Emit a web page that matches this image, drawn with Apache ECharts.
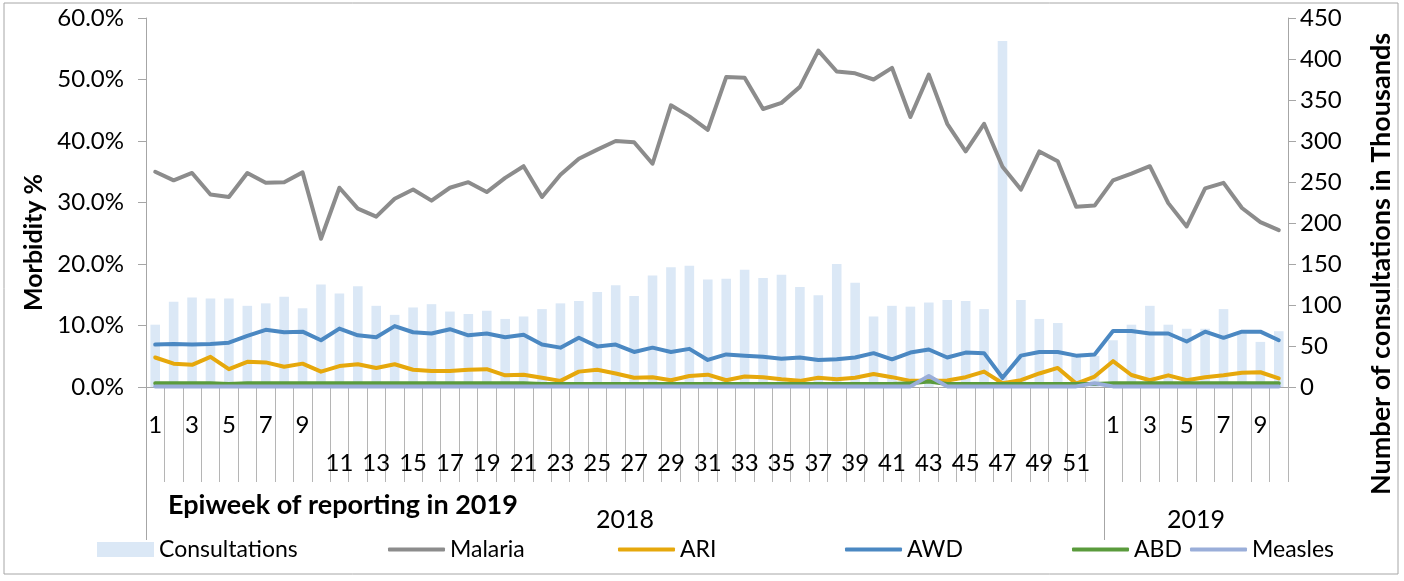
<!DOCTYPE html>
<html><head><meta charset="utf-8">
<script src="https://cdn.jsdelivr.net/npm/echarts@6/dist/echarts.min.js"></script>
<style>html,body{margin:0;padding:0;background:#fff}#c{width:1404px;height:581px}</style>
</head><body><div id="c"></div>
<script>
const weeks = ['1','2','3','4','5','6','7','8','9','10','11','12','13','14','15','16','17','18','19','20',
  '21','22','23','24','25','26','27','28','29','30','31','32','33','34','35','36','37','38','39','40',
  '41','42','43','44','45','46','47','48','49','50','51','52',
  '1','2','3','4','5','6','7','8','9','10'];
const years = ['2018', '2019'];
const yearStart = [0, 52];
const yearEnd = [52, 62];
const consultations = [76,104,109,108,108,99,102,110,96,125,114,123,99,88,97,101,92,89,93,83,
  86,95,102,105,116,124,111,136,146,148,131,132,143,133,137,122,112,150,127,86,
  99,98,103,106,105,95,422,106,83,78,40,38,57,76,99,76,71,71,95,65,55,68];
const malaria = [35.0,33.6,34.8,31.3,30.9,34.8,33.2,33.3,34.9,24.1,32.4,29.0,27.7,30.6,32.1,30.3,32.4,33.3,31.7,34.0,
  35.9,30.9,34.5,37.1,38.6,40.0,39.8,36.3,45.8,44.0,41.8,50.4,50.3,45.2,46.2,48.8,54.7,51.3,51.0,50.0,
  51.9,43.9,50.8,42.8,38.3,42.8,35.8,32.1,38.3,36.7,29.3,29.5,33.6,34.7,35.9,29.9,26.1,32.3,33.2,29.1,26.8,25.5];
const ari = [4.8,3.8,3.6,4.9,2.9,4.1,4.0,3.3,3.8,2.5,3.4,3.7,3.1,3.7,2.8,2.6,2.6,2.8,2.9,1.9,
  2.0,1.5,1.0,2.5,2.8,2.2,1.5,1.6,1.1,1.8,2.0,1.1,1.7,1.6,1.25,1.0,1.5,1.25,1.5,2.1,
  1.6,1.0,1.0,1.05,1.6,2.5,0.6,1.1,2.2,3.1,0.55,1.7,4.2,1.95,1.1,1.9,1.1,1.6,1.9,2.3,2.4,1.4];
const awd = [6.9,7.0,6.9,7.0,7.2,8.3,9.3,8.9,9.0,7.6,9.5,8.4,8.1,9.9,8.9,8.7,9.4,8.4,8.7,8.1,
  8.5,6.9,6.4,8.0,6.6,6.9,5.7,6.4,5.7,6.2,4.4,5.3,5.1,4.9,4.6,4.8,4.4,4.5,4.8,5.5,
  4.5,5.6,6.1,4.8,5.6,5.5,1.5,5.1,5.7,5.7,5.1,5.3,9.1,9.1,8.7,8.7,7.4,9.0,8.0,9.0,9.0,7.6];
const abd = [0.6,0.6,0.6,0.6,0.5,0.6,0.6,0.6,0.6,0.6,0.6,0.6,0.6,0.6,0.6,0.6,0.6,0.6,0.6,0.6,
  0.6,0.5,0.5,0.5,0.5,0.5,0.5,0.5,0.5,0.5,0.5,0.5,0.5,0.5,0.5,0.5,0.5,0.5,0.5,0.5,
  0.5,0.6,0.9,0.5,0.5,0.5,0.5,0.5,0.5,0.5,0.5,0.5,0.6,0.6,0.6,0.6,0.6,0.6,0.6,0.6,0.6,0.6];
const measles = [0.1,0.1,0.1,0.1,0.1,0.1,0.1,0.1,0.1,0.1,0.1,0.1,0.1,0.1,0.1,0.1,0.1,0.1,0.1,0.1,
  0.1,0.1,0.1,0.1,0.1,0.1,0.1,0.1,0.1,0.1,0.1,0.1,0.1,0.1,0.1,0.1,0.1,0.1,0.1,0.1,
  0.1,0.1,1.8,0.1,0.1,0.1,0.1,0.1,0.1,0.1,0.1,0.6,0.1,0.1,0.1,0.1,0.1,0.1,0.1,0.1,0.1,0.1];

const F = 'Lato, "Open Sans", sans-serif';
const AX = '#a6a6a6';
const C = {cons:'#dbe8f6', mal:'#8c8c8c', ari:'#e6a80c', awd:'#4b88c2', abd:'#5a9b3c', mea:'#9aaed9'};

const yearCenters = years.map((y, k) => (yearStart[k] + yearEnd[k]) / 2);

const chart = echarts.init(document.getElementById('c'), null, {renderer:'canvas'});

function lineSeries(name, data, color) {
  return {
    name, type:'line', data, yAxisIndex:0, xAxisIndex:0, symbol:'none',
    lineStyle:{color, width:4, cap:'round', join:'round'}, itemStyle:{color}, clip:false, animation:false
  };
}

function legendItem(name, left, isLine) {
  return {data:[isLine ? {name, icon:'roundRect'} : {name, icon:'rect'}], left, top:538, padding:0,
    itemWidth:57, itemHeight:isLine ? 4 : 15, itemGap:0,
    textStyle:{fontFamily:F, fontSize:23, color:'#000'}, selectedMode:false};
}

chart.setOption({
  animation:false,
  backgroundColor:'#fff',
  grid:{left:146, right:116, top:18, bottom:194, containLabel:false},
  title:{text:'Epiweek of reporting in 2019', left:168, top:492, padding:0,
    textStyle:{fontFamily:F, fontSize:27, fontWeight:'bold', color:'#000'}},
  legend:[
    legendItem('Consultations', 97, false),
    legendItem('Malaria', 388, true),
    legendItem('ARI', 618, true),
    legendItem('AWD', 845, true),
    legendItem('ABD', 1072, true),
    legendItem('Measles', 1190, true)
  ],
  graphic:[{type:'rect', silent:true, shape:{x:4, y:3, width:1394, height:571},
    style:{fill:'none', stroke:'#a6a6a6', lineWidth:1}}],
  xAxis:[
    {type:'category', data:weeks, position:'bottom',
      axisLine:{show:true, lineStyle:{color:AX, width:1}},
      axisTick:{show:true, interval:0, length:95, lineStyle:{color:'#b5b5b5'}},
      axisLabel:{interval:0, margin:26, fontFamily:F, fontSize:24, color:'#000',
        formatter:(v, i) => ((+v % 2 === 1) && (i >= 52 || +v <= 9)) ? v : ''},
      splitLine:{show:false}},
    {type:'category', data:weeks, position:'bottom',
      axisLine:{show:false}, axisTick:{show:false},
      axisLabel:{interval:0, margin:64, fontFamily:F, fontSize:24, color:'#000',
        formatter:(v, i) => ((+v % 2 === 1) && i < 52 && +v >= 11) ? v : ''},
      splitLine:{show:false}},
    {type:'value', min:0, max:weeks.length, position:'bottom',
      axisLine:{show:false}, splitLine:{show:false},
      axisTick:{show:true, customValues:yearStart.slice(), length:153, lineStyle:{color:AX}},
      axisLabel:{show:true, customValues:yearCenters, margin:120, fontFamily:F, fontSize:25, color:'#000',
        formatter:(v) => years[yearCenters.indexOf(v)] || ''}}
  ],
  yAxis:[
    {type:'value', min:0, max:60, interval:10, position:'left',
      axisLine:{show:true, lineStyle:{color:AX}},
      axisTick:{show:true, length:8, lineStyle:{color:AX}},
      splitLine:{show:false},
      axisLabel:{formatter:v => v.toFixed(1) + '%', margin:22, fontFamily:F, fontSize:24, color:'#000'},
      name:'Morbidity %', nameLocation:'middle', nameGap:100, nameRotate:90,
      nameTextStyle:{fontFamily:F, fontSize:25, fontWeight:'bold', color:'#000', padding:[0,80,0,0]}},
    {type:'value', min:0, max:450, interval:50, position:'right',
      axisLine:{show:true, lineStyle:{color:AX}},
      axisTick:{show:true, length:8, lineStyle:{color:AX}},
      splitLine:{show:false},
      axisLabel:{margin:12, fontFamily:F, fontSize:24, color:'#000'},
      name:'Number of consultations in Thousands', nameLocation:'middle', nameGap:80, nameRotate:90,
      nameTextStyle:{fontFamily:F, fontSize:27, fontWeight:'bold', color:'#000', padding:[0,123,0,0]}}
  ],
  series:[
    {name:'Consultations', type:'bar', data:consultations, xAxisIndex:0, yAxisIndex:1,
      barWidth:'52%', itemStyle:{color:C.cons}, animation:false},
    lineSeries('Malaria', malaria, C.mal),
    lineSeries('ARI', ari, C.ari),
    lineSeries('AWD', awd, C.awd),
    lineSeries('ABD', abd, C.abd),
    lineSeries('Measles', measles, C.mea)
  ]
});
</script></body></html>
